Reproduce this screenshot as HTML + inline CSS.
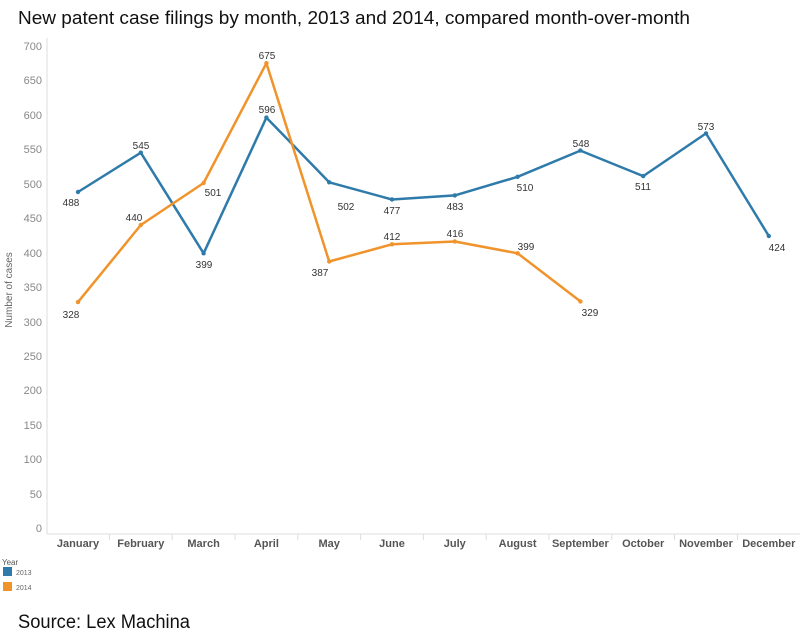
<!DOCTYPE html>
<html><head><meta charset="utf-8"><style>
body{margin:0;background:#fff;}
svg{display:block;font-family:"Liberation Sans",Arial,sans-serif;}
</style></head><body>
<svg width="800" height="641" viewBox="0 0 800 641" xmlns="http://www.w3.org/2000/svg">
<rect width="800" height="641" fill="#fff"/>
<text x="18" y="24" font-size="18.5" fill="#111" textLength="672" lengthAdjust="spacingAndGlyphs">New patent case filings by month, 2013 and 2014, compared month-over-month</text>
<line x1="47" y1="38" x2="47" y2="534" stroke="#ddd"/>
<line x1="47" y1="534" x2="800" y2="534" stroke="#ddd"/>
<g font-size="11" fill="#888" text-anchor="end">
<text x="42" y="50">700</text><text x="42" y="84">650</text><text x="42" y="119">600</text><text x="42" y="153">550</text><text x="42" y="188">500</text><text x="42" y="222">450</text><text x="42" y="257">400</text><text x="42" y="291">350</text><text x="42" y="326">300</text><text x="42" y="360">250</text><text x="42" y="394">200</text><text x="42" y="429">150</text><text x="42" y="463">100</text><text x="42" y="498">50</text><text x="42" y="532">0</text>
</g>
<text transform="translate(12,290) rotate(-90)" font-size="10" fill="#666" text-anchor="middle">Number of cases</text>
<g stroke="#ddd"><line x1="109.4" y1="534" x2="109.4" y2="540"/><line x1="172.2" y1="534" x2="172.2" y2="540"/><line x1="235" y1="534" x2="235" y2="540"/><line x1="297.8" y1="534" x2="297.8" y2="540"/><line x1="360.6" y1="534" x2="360.6" y2="540"/><line x1="423.4" y1="534" x2="423.4" y2="540"/><line x1="486.2" y1="534" x2="486.2" y2="540"/><line x1="549" y1="534" x2="549" y2="540"/><line x1="611.8" y1="534" x2="611.8" y2="540"/><line x1="674.6" y1="534" x2="674.6" y2="540"/><line x1="737.4" y1="534" x2="737.4" y2="540"/></g>
<g font-size="11" font-weight="bold" fill="#555" text-anchor="middle">
<text x="78" y="547">January</text><text x="140.8" y="547">February</text><text x="203.6" y="547">March</text><text x="266.4" y="547">April</text><text x="329.2" y="547">May</text><text x="392" y="547">June</text><text x="454.8" y="547">July</text><text x="517.6" y="547">August</text><text x="580.4" y="547">September</text><text x="643.2" y="547">October</text><text x="706" y="547">November</text><text x="768.8" y="547">December</text>
</g>
<polyline fill="none" stroke="#2e7bab" stroke-width="2.5" stroke-linejoin="round" points="78,192 140.8,152.7 203.6,253.3 266.4,117.6 329.2,182.3 392,199.5 454.8,195.4 517.6,176.8 580.4,150.6 643.2,176.1 706,133.4 768.8,236"/>
<polyline fill="none" stroke="#f0932b" stroke-width="2.5" stroke-linejoin="round" points="78,302.1 140.8,225 203.6,183 266.4,63.2 329.2,261.5 392,244.3 454.8,241.5 517.6,253.3 580.4,301.4"/>
<g fill="#2e7bab"><circle cx="78" cy="192" r="2.2"/><circle cx="140.8" cy="152.7" r="2.2"/><circle cx="203.6" cy="253.3" r="2.2"/><circle cx="266.4" cy="117.6" r="2.2"/><circle cx="329.2" cy="182.3" r="2.2"/><circle cx="392" cy="199.5" r="2.2"/><circle cx="454.8" cy="195.4" r="2.2"/><circle cx="517.6" cy="176.8" r="2.2"/><circle cx="580.4" cy="150.6" r="2.2"/><circle cx="643.2" cy="176.1" r="2.2"/><circle cx="706" cy="133.4" r="2.2"/><circle cx="768.8" cy="236" r="2.2"/></g>
<g fill="#f0932b"><circle cx="78" cy="302.1" r="2.2"/><circle cx="140.8" cy="225" r="2.2"/><circle cx="203.6" cy="183" r="2.2"/><circle cx="266.4" cy="63.2" r="2.2"/><circle cx="329.2" cy="261.5" r="2.2"/><circle cx="392" cy="244.3" r="2.2"/><circle cx="454.8" cy="241.5" r="2.2"/><circle cx="517.6" cy="253.3" r="2.2"/><circle cx="580.4" cy="301.4" r="2.2"/></g>
<g font-size="10" fill="#333" text-anchor="middle">
<text x="71" y="206">488</text><text x="141" y="149">545</text><text x="204" y="268">399</text><text x="267" y="113">596</text><text x="346" y="210">502</text><text x="392" y="214">477</text><text x="455" y="210">483</text><text x="525" y="191">510</text><text x="581" y="147">548</text><text x="643" y="190">511</text><text x="706" y="130">573</text><text x="777" y="251">424</text>
<text x="71" y="318">328</text><text x="134" y="221">440</text><text x="213" y="196">501</text><text x="267" y="59">675</text><text x="320" y="276">387</text><text x="392" y="240">412</text><text x="455" y="237">416</text><text x="526" y="250">399</text><text x="590" y="316">329</text>
</g>
<text x="2" y="565" font-size="8" fill="#555">Year</text>
<rect x="3" y="567" width="9" height="9" fill="#2e7bab"/><text x="16" y="575" font-size="7" fill="#666">2013</text>
<rect x="3" y="582" width="9" height="9" fill="#f0932b"/><text x="16" y="590" font-size="7" fill="#666">2014</text>
<text x="18" y="628" font-size="19" fill="#111" textLength="172" lengthAdjust="spacingAndGlyphs">Source: Lex Machina</text>
</svg>
</body></html>
